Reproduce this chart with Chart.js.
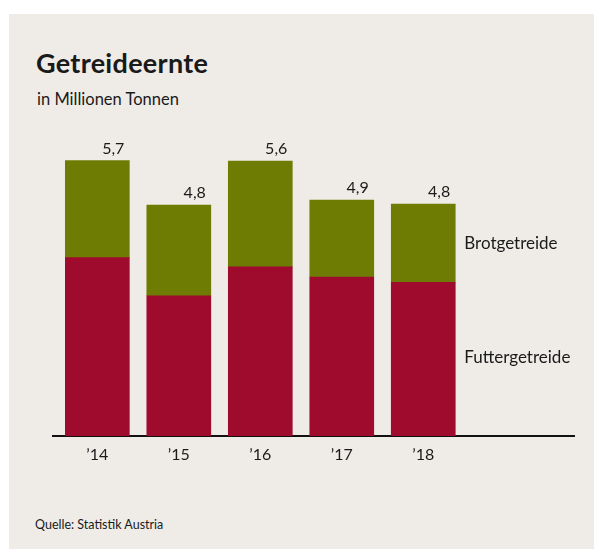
<!DOCTYPE html>
<html lang="de">
<head>
<meta charset="utf-8">
<title>Getreideernte</title>
<script src="https://cdn.jsdelivr.net/npm/chart.js@4.4.1/dist/chart.umd.min.js"></script>
<style>
  html, body { margin: 0; padding: 0; background: #ffffff; }
  body { width: 594px; height: 550px; position: relative; overflow: hidden; font-family: Lato, "Open Sans", sans-serif; color: #1a1a1a; }
  .panel { position: absolute; left: 9px; top: 14px; width: 585px; height: 535px; background: #efece8; }
  .title { position: absolute; left: 36px; top: 46px; font-size: 27px; font-weight: 700; letter-spacing: 0.3px; }
  .subtitle { position: absolute; left: 37px; top: 89px; font-size: 16.5px; }
  .source { position: absolute; left: 35px; top: 517px; font-size: 12.5px; }
  canvas { position: absolute; left: 0; top: 0; }
</style>
</head>
<body>
<div class="panel"></div>
<div class="title">Getreideernte</div>
<div class="subtitle">in Millionen Tonnen</div>
<div class="source">Quelle: Statistik Austria</div>
<canvas id="chart" width="594" height="550"></canvas>

<script>
// values, million tonnes
const years = ['\u201914', '\u201915', '\u201916', '\u201917', '\u201918'];
const futter = [3.69, 2.90, 3.50, 3.29, 3.18];
const brot = [2.01, 1.88, 2.19, 1.59, 1.62];
const totals = ['5,7', '4,8', '5,6', '4,9', '4,8'];
const seriesNames = ['Futtergetreide', 'Brotgetreide'];

const textColor = '#1a1a1a';

// value on top of each bar + series names next to the last bar
const labelPlugin = {
    id: 'barLabels',
    afterDatasetsDraw(chart) {
        const ctx = chart.ctx;
        const bottomBars = chart.getDatasetMeta(0).data;
        const topBars = chart.getDatasetMeta(1).data;
        ctx.save();
        ctx.font = '16px Lato';
        ctx.fillStyle = textColor;
        ctx.textAlign = 'right';
        ctx.textBaseline = 'alphabetic';
        topBars.forEach((bar, i) => {
            ctx.fillText(totals[i], bar.x + bar.width / 2 - 5, bar.y - 7);
        });
        const last = topBars.length - 1;
        const b = topBars[last];
        const r = bottomBars[last];
        ctx.font = '17px Lato';
        ctx.textAlign = 'left';
        ctx.textBaseline = 'middle';
        ctx.fillText(seriesNames[1], b.x + b.width / 2 + 9, (b.y + b.base) / 2);
        ctx.fillText(seriesNames[0], r.x + r.width / 2 + 9, (r.y + r.base) / 2 - 2);
        ctx.restore();
    }
};

const ctx = document.getElementById('chart').getContext('2d');
const chart = new Chart(ctx, {
    type: 'bar',
    data: {
        datasets: [
            {
                label: seriesNames[0],
                data: years.map((y, i) => ({ x: i, y: futter[i] })),
                backgroundColor: '#9e0b2c',
                barThickness: 64
            },
            {
                label: seriesNames[1],
                data: years.map((y, i) => ({ x: i, y: brot[i] })),
                backgroundColor: '#6f7c03',
                barThickness: 64
            }
        ]
    },
    options: {
        responsive: false,
        devicePixelRatio: 1,
        animation: false,
        layout: {
            padding: { left: 53, right: 20, top: 146, bottom: 74 }
        },
        plugins: {
            legend: { display: false },
            tooltip: { enabled: false }
        },
        scales: {
            x: {
                type: 'linear',
                stacked: true,
                offset: false,
                min: -0.544,
                max: 5.85,
                grid: { display: false, drawTicks: false, offset: false },
                border: { display: true, color: '#111111', width: 2 },
                afterBuildTicks: (scale) => {
                    scale.ticks = years.map((y, i) => ({ value: i }));
                },
                afterFit: (scale) => {
                    scale.height = 40;
                },
                ticks: {
                    padding: 9,
                    color: textColor,
                    font: { family: 'Lato', size: 16 },
                    maxRotation: 0,
                    autoSkip: false,
                    callback: (v) => years[v] ?? ''
                }
            },
            y: {
                stacked: true,
                display: false,
                min: 0,
                max: 6
            }
        }
    },
    plugins: [labelPlugin]
});
</script>
</body>
</html>
